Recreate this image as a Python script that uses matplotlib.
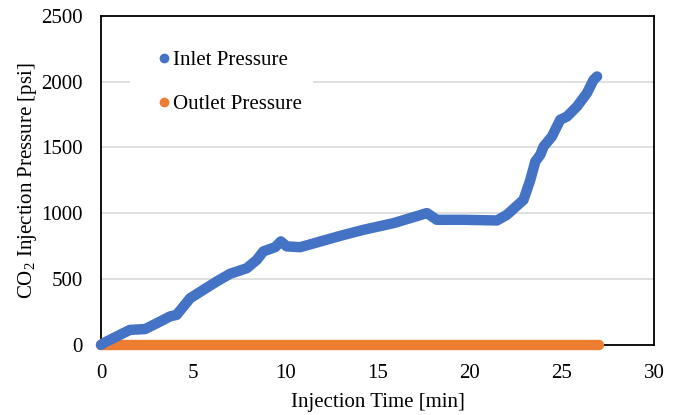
"""CO2 injection pressure vs. time: inlet and outlet pressure traces."""

import matplotlib

matplotlib.use("Agg")
import matplotlib.pyplot as plt
from matplotlib.lines import Line2D

# Inlet pressure trace (time in min, pressure in psi).
inlet_time = [0.0, 0.13, 0.85, 1.57, 2.39, 3.02, 3.74, 4.1, 4.83, 5.55, 6.28,
              7.0, 7.9, 8.45, 8.8, 9.44, 9.75, 10.07, 10.8, 12.06, 12.97,
              14.23, 15.87, 17.67, 18.21, 19.66, 21.47, 22.01, 22.91, 23.28,
              23.55, 23.82, 24.0, 24.45, 24.9, 25.27, 25.81, 26.35, 26.71,
              26.9]
inlet_psi = [0, 13, 64, 114, 120, 164, 216, 228, 354, 418, 482,
             540, 582, 646, 710, 742, 786, 748, 742, 792, 828,
             874, 925, 1001, 950, 950, 945, 988, 1102, 1254,
             1393, 1444, 1507, 1583, 1710, 1735, 1811, 1913, 2014,
             2039]

# Outlet pressure stays at zero for the whole run.
outlet_time = [0.0, 5.0, 10.0, 15.0, 20.0, 25.0, 26.98]
outlet_psi = [0, 0, 0, 0, 0, 0, 0]

series_labels = ["Inlet Pressure", "Outlet Pressure"]
series_colors = ["#4472c4", "#ed7d31"]

x_ticks = [0, 5, 10, 15, 20, 25, 30]
y_ticks = [0, 500, 1000, 1500, 2000, 2500]

plt.rcParams["font.family"] = ["Liberation Serif", "DejaVu Serif"]
plt.rcParams["mathtext.fontset"] = "custom"
plt.rcParams["mathtext.rm"] = "Liberation Serif"

fig = plt.figure(figsize=(6.78, 4.15), dpi=100)
ax = fig.add_axes([0.149, 0.169, 0.816, 0.793])

ax.plot(outlet_time, outlet_psi, color=series_colors[1], lw=7.5,
        solid_capstyle="round", solid_joinstyle="round", zorder=3,
        clip_on=False)
ax.plot(inlet_time, inlet_psi, color=series_colors[0], lw=7.5,
        solid_capstyle="round", solid_joinstyle="round", zorder=4,
        clip_on=False)

ax.set_xlim(0, 30)
ax.set_ylim(0, 2500)
ax.set_xticks(x_ticks)
ax.set_yticks(y_ticks)
ax.tick_params(length=0, labelsize=15)
ax.tick_params(axis="y", pad=13)
ax.tick_params(axis="x", pad=14)

ax.grid(axis="y", color="#d9d9d9", lw=1.2)
ax.set_axisbelow(True)
for sp in ax.spines.values():
    sp.set_color("black")
    sp.set_linewidth(1.3)

ax.set_xlabel("Injection Time [min]", fontsize=15, labelpad=7)
ax.set_ylabel(r"CO$_\mathregular{2}$ Injection Pressure [psi]",
              fontsize=15, labelpad=2)

handles = [Line2D([], [], ls="none", marker="o", ms=6, color=c)
           for c in series_colors]
leg = ax.legend(handles, series_labels, loc="upper left",
                bbox_to_anchor=(0.052, 0.927), fontsize=15, frameon=True,
                framealpha=1, edgecolor="white", fancybox=False,
                handletextpad=-0.7, handlelength=2.27, labelspacing=1.2,
                borderpad=0.5, borderaxespad=0)
leg.set_zorder(2)

fig.savefig("out.png", dpi=100)
